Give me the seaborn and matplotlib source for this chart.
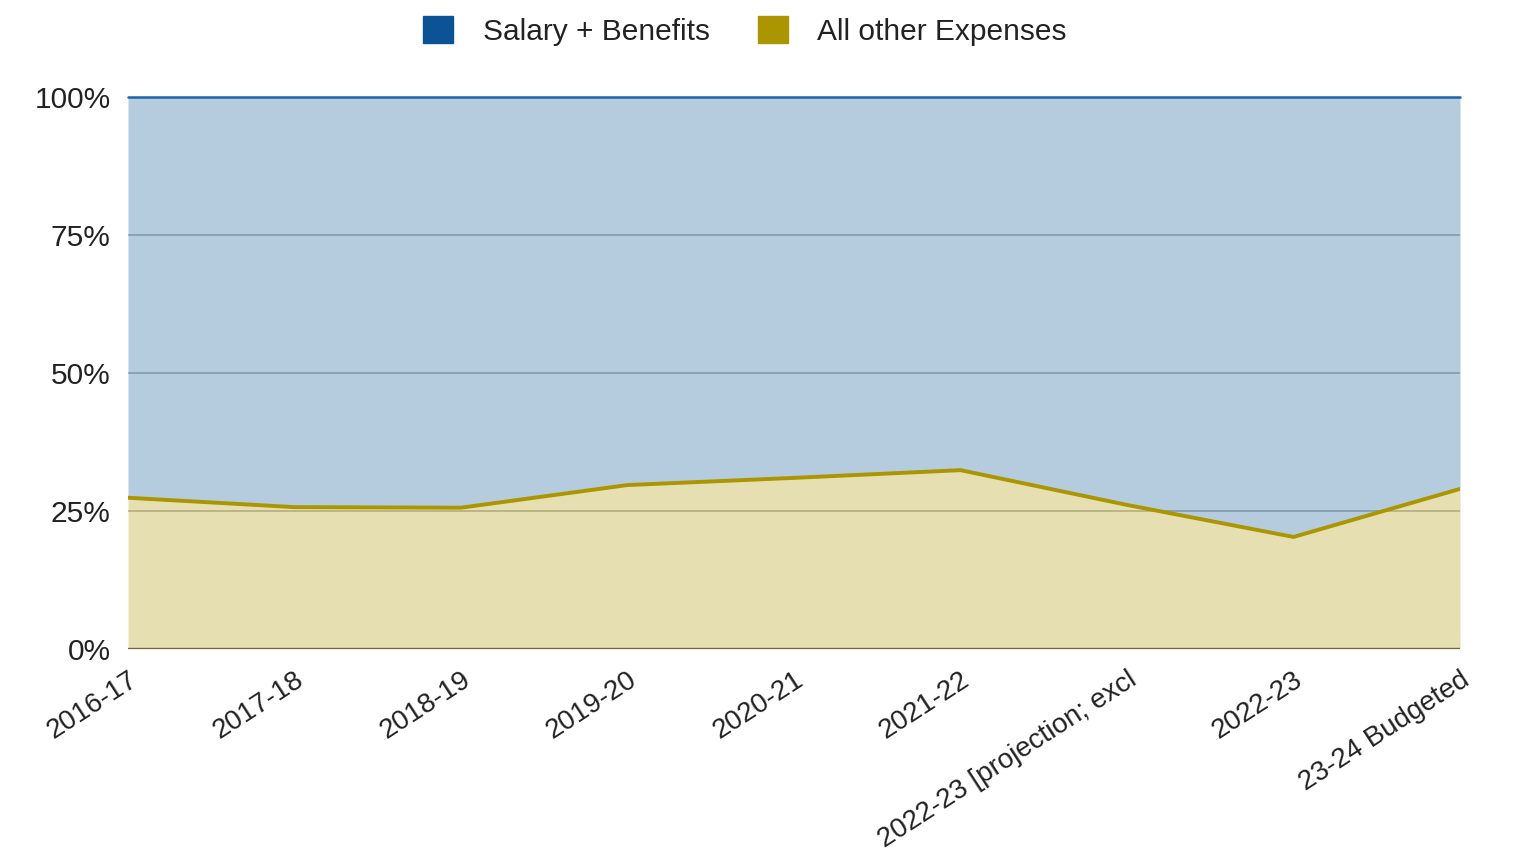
import matplotlib
matplotlib.use("Agg")
import matplotlib.pyplot as plt
import seaborn as sns
import pandas as pd
import numpy as np
from matplotlib.patches import Patch

categories = ["2016-17", "2017-18", "2018-19", "2019-20", "2020-21", "2021-22",
              "2022-23 [projection; excl", "2022-23", "23-24 Budgeted"]
other_pct = [27.4, 25.7, 25.6, 29.7, 31.0, 32.4, 26.1, 20.3, 29.0]
salary_pct = [100 - v for v in other_pct]
y_ticks = [0, 25, 50, 75, 100]
y_tick_labels = ["0%", "25%", "50%", "75%", "100%"]

BLUE = "#0b5394"
OLIVE = "#ab9500"

sns.set_theme(style="white")
plt.rcParams['font.family'] = ['Liberation Sans', 'DejaVu Sans']

df = pd.DataFrame({"cat": categories, "x": np.arange(len(categories)),
                   "other": other_pct, "salary": salary_pct})
df["top"] = df["other"] + df["salary"]

fig = plt.figure(figsize=(15.18, 8.61), dpi=100)
ax = fig.add_axes([128/1518, 1 - 649/861, (1460-128)/1518, (649-97)/861])

for yv in y_ticks[1:-1]:
    ax.axhline(yv, color="#b8b8b8", lw=1.2, zorder=0)

ax.fill_between(df["x"], 0, df["other"], color=OLIVE, alpha=0.3, lw=0, zorder=1)
ax.fill_between(df["x"], df["other"], df["top"], color=BLUE, alpha=0.3, lw=0, zorder=1)

sns.lineplot(data=df, x="x", y="top", color="#1a64a8", lw=1.8, ax=ax, zorder=3,
             clip_on=False)
sns.lineplot(data=df, x="x", y="other", color=OLIVE, lw=2.8, ax=ax, zorder=3)
ax.axhline(0, color="#6b6645", lw=2.4, zorder=4)

ax.set_xlim(0, len(categories) - 1)
ax.set_ylim(0, 100)
ax.set_xticks(df["x"])
ax.set_xticklabels(categories, rotation=33, ha="right", rotation_mode="anchor",
                   fontsize=20, color="#222222")
ax.set_yticks(y_ticks)
ax.set_yticklabels(y_tick_labels, fontsize=21.5, color="#222222")
ax.tick_params(axis="x", length=0, pad=13)
ax.tick_params(axis="y", length=0, pad=12.5)
ax.set_xlabel("")
ax.set_ylabel("")
for s in ax.spines.values():
    s.set_visible(False)

handles = [Patch(facecolor=BLUE, edgecolor=BLUE), Patch(facecolor=OLIVE, edgecolor=OLIVE)]
fig.legend(handles, ["Salary + Benefits", "All other Expenses"], loc="center",
           bbox_to_anchor=(745/1518, 1 - 31/861), ncol=2, frameon=False,
           fontsize=21.5, handlelength=1.0, handleheight=1.0, handletextpad=1.0,
           columnspacing=1.6, labelcolor="#222222")

fig.savefig("out.png", dpi=100)
